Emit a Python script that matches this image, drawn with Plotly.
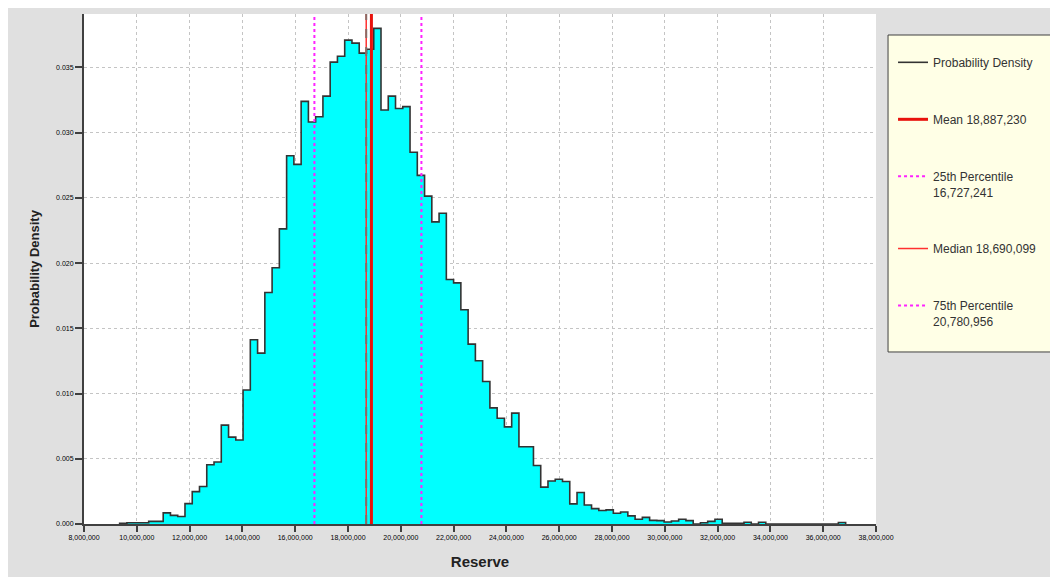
import plotly.graph_objects as go

# ---- data ----
bin_start = 9_350_000
bin_width = 275_000
density = [
    0.00005, 0.0001, 0.0001, 0.0001, 0.0002, 0.0002, 0.00085, 0.00066, 0.00058, 0.00156,
    0.00248, 0.00288, 0.00454, 0.00475, 0.00758, 0.00666, 0.00644, 0.01027, 0.01413, 0.0131,
    0.01775, 0.01965, 0.02263, 0.02823, 0.02757, 0.0324, 0.03082, 0.03122, 0.0328, 0.03541,
    0.03586, 0.0371, 0.03687, 0.0361, 0.0364, 0.0380, 0.03174, 0.0328, 0.03185, 0.0320,
    0.0285, 0.02673, 0.02514, 0.02316, 0.02382, 0.01875, 0.01849, 0.01643, 0.01379, 0.01252,
    0.01093, 0.0089, 0.00811, 0.00745, 0.0085, 0.00592, 0.00592, 0.00449, 0.00283, 0.0033,
    0.00343, 0.00326, 0.00154, 0.00241, 0.00146, 0.00118, 0.00103, 0.00108, 0.00082, 0.00092,
    0.00062, 0.00036, 0.00051, 0.00028, 0.00026, 0.00015, 0.00023, 0.00036, 0.00026, 0.0,
    0.0001, 0.0002, 0.00036, 0.00005, 0.00005, 0.00005, 0.00013, 0.0, 0.00013, 0.0,
    0.0, 0.0, 0.0, 0.0, 0.0, 0.0, 0.0, 0.0, 0.0, 0.00012,
]
mean_val = 18_887_230
median_val = 18_690_099
p25_val = 16_727_241
p75_val = 20_780_956
x_ticks = list(range(8_000_000, 38_000_001, 2_000_000))
y_ticks = [0.0, 0.005, 0.010, 0.015, 0.020, 0.025, 0.030, 0.035]

# ---- derived step outline ----
edges = [bin_start + i * bin_width for i in range(len(density) + 1)]
step_x = [edges[0]] + edges[:-1] + [edges[-1], edges[-1]]
step_y = [0.0] + density + [density[-1], 0.0]

fig = go.Figure()
fig.add_trace(go.Scatter(x=step_x, y=step_y, mode="lines", line_shape="hv",
                         fill="tozeroy", fillcolor="#00ffff", line=dict(width=0),
                         showlegend=False, hoverinfo="skip"))
fig.add_trace(go.Scatter(x=step_x, y=step_y, mode="lines", line_shape="hv",
                         line=dict(color="#333333", width=1.6),
                         name="Probability Density", legendgroup="a"))
fig.add_trace(go.Scatter(x=[mean_val, mean_val], y=[0, 1], yaxis="y2", mode="lines",
                         line=dict(color="#e8120c", width=3),
                         name=f"Mean {mean_val:,}", legendgroup="b"))
fig.add_trace(go.Scatter(x=[p25_val, p25_val], y=[0, 1], yaxis="y2", mode="lines",
                         line=dict(color="#ff22ff", width=2, dash="dot"),
                         name=f"25th Percentile<br>{p25_val:,}", legendgroup="c"))
fig.add_trace(go.Scatter(x=[median_val, median_val], y=[0, 1], yaxis="y2", mode="lines",
                         line=dict(color="#ff3030", width=1.5),
                         name=f"Median {median_val:,}", legendgroup="d"))
fig.add_trace(go.Scatter(x=[median_val, median_val], y=[0, 1], yaxis="y2", mode="lines",
                         line=dict(color="#8a6a64", width=2, dash="dash"),
                         showlegend=False, hoverinfo="skip", legendgroup="d"))
fig.add_trace(go.Scatter(x=[p75_val, p75_val], y=[0, 1], yaxis="y2", mode="lines",
                         line=dict(color="#ff22ff", width=2, dash="dot"),
                         name=f"75th Percentile<br>{p75_val:,}", legendgroup="e"))

axis_common = dict(showline=True, linecolor="#404040", linewidth=2,
                   ticks="outside", tickcolor="#404040", tickwidth=1.5,
                   showgrid=True, gridcolor="#c4c4c4", griddash="3px,3px", gridwidth=1,
                   zeroline=False, tickfont=dict(family="Arial", size=7, color="#000000"))

fig.update_layout(
    width=1050, height=569,
    margin=dict(l=76, r=182, t=6, b=53),
    paper_bgcolor="#e0e0e0", plot_bgcolor="#ffffff",
    font=dict(family="Arial", color="#222222"),
    xaxis=dict(range=[8_000_000, 38_000_000], tickvals=x_ticks, tickformat=",d",
               ticklen=6,
               title=dict(text="<b>Reserve</b>", font=dict(size=15, color="#222222"), standoff=16),
               **axis_common),
    yaxis=dict(range=[0, 0.0391], tickvals=y_ticks, tickformat=".3f", ticklen=7,
               title=dict(text="<b>Probability Density</b>", font=dict(size=13, color="#222222"),
                          standoff=14),
               **axis_common),
    yaxis2=dict(overlaying="y", range=[0, 1], visible=False),
    legend=dict(x=1.0215, y=0.9333, xanchor="left", yanchor="top",
                bgcolor="rgba(0,0,0,0)", borderwidth=0,
                font=dict(size=12, color="#333333"), tracegroupgap=38,
                valign="top", traceorder="grouped"),
    shapes=[dict(type="rect", xref="paper", yref="paper", x0=1.0152, x1=1.26,
                 y0=0.3373, y1=0.9588, fillcolor="#ffffe6",
                 line=dict(color="#404040", width=1), layer="above")],
)

fig.write_html("out.html")
